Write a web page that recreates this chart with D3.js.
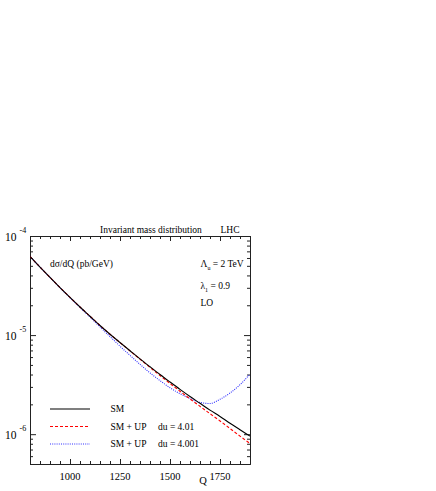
<!DOCTYPE html>
<html>
<head>
<meta charset="utf-8">
<script src="https://cdn.jsdelivr.net/npm/d3@7"></script>
<style>
  html, body { margin: 0; padding: 0; background: #fff; }
  svg { display: block; }
  text { font-family: "Liberation Serif", "DejaVu Serif", serif; fill: #000; }
</style>
</head>
<body>
<div id="chart"></div>
<script>
// ---- data ----
const Q = [800, 850, 900, 950, 1000, 1050, 1100, 1150, 1200, 1250, 1300, 1350, 1400,
           1450, 1500, 1550, 1600, 1650, 1700, 1750, 1800, 1850, 1900];
const sm = [6.21e-5, 4.86e-5, 3.82e-5, 3.02e-5, 2.40e-5, 1.92e-5, 1.55e-5, 1.25e-5, 1.02e-5,
            8.41e-6, 6.95e-6, 5.75e-6, 4.79e-6, 4.00e-6, 3.36e-6, 2.83e-6, 2.40e-6, 2.05e-6,
            1.75e-6, 1.51e-6, 1.29e-6, 1.11e-6, 9.55e-7];
const up401 = [6.21e-5, 4.86e-5, 3.82e-5, 3.02e-5, 2.40e-5, 1.92e-5, 1.55e-5, 1.25e-5, 1.02e-5,
               8.41e-6, 6.92e-6, 5.71e-6, 4.72e-6, 3.91e-6, 3.25e-6, 2.71e-6, 2.27e-6, 1.91e-6,
               1.61e-6, 1.36e-6, 1.14e-6, 9.55e-7, 8.04e-7];
const up4001 = [6.21e-5, 4.86e-5, 3.81e-5, 3.01e-5, 2.38e-5, 1.90e-5, 1.52e-5, 1.21e-5, 9.66e-6,
                7.73e-6, 6.24e-6, 5.07e-6, 4.15e-6, 3.47e-6, 2.94e-6, 2.56e-6, 2.29e-6, 2.09e-6,
                2.04e-6, 2.25e-6, 2.60e-6, 3.16e-6, 4.04e-6];
const xTicks = [1000, 1250, 1500, 1750];
const xTickLabels = ["1000", "1250", "1500", "1750"];
const yDecades = [1e-4, 1e-5, 1e-6];
const yDecadeExp = ["-4", "-5", "-6"];
const seriesNames = ["SM", "SM + UP", "SM + UP"];
const seriesNotes = ["", "du = 4.01", "du = 4.001"];
const title = "Invariant mass distribution";
const collider = "LHC";

// ---- layout ----
const W = 436, H = 491;
const L = 30, R = 250, T = 236, B = 464;
const svg = d3.select("#chart").append("svg").attr("width", W).attr("height", H);

const x = d3.scaleLinear().domain([800, 1900]).range([L, R]);
const y = d3.scaleLog().domain([5e-7, 1e-4]).range([B, T]);

const axisColor = "#222";

// minor/major ticks
const xMinor = d3.range(800, 1901, 50).filter(v => !xTicks.includes(v));
const yMinor = [];
[-7, -6, -5].forEach(e => { for (let m = 2; m <= 9; m++) { const v = m * Math.pow(10, e); if (v >= 5e-7 && v <= 1e-4) yMinor.push(v); } });

const axB = d3.axisBottom(x).tickValues(xTicks).tickFormat("").tickSizeInner(-5).tickSizeOuter(0);
const axBm = d3.axisBottom(x).tickValues(xMinor).tickFormat("").tickSizeInner(-3).tickSizeOuter(0);
const axT = d3.axisTop(x).tickValues(xTicks).tickFormat("").tickSizeInner(-5).tickSizeOuter(0);
const axTm = d3.axisTop(x).tickValues(xMinor).tickFormat("").tickSizeInner(-3).tickSizeOuter(0);
const axL = d3.axisLeft(y).tickValues(yDecades).tickFormat("").tickSizeInner(-6).tickSizeOuter(0);
const axLm = d3.axisLeft(y).tickValues(yMinor).tickFormat("").tickSizeInner(-3).tickSizeOuter(0);
const axR = d3.axisRight(y).tickValues(yDecades).tickFormat("").tickSizeInner(-6).tickSizeOuter(0);
const axRm = d3.axisRight(y).tickValues(yMinor).tickFormat("").tickSizeInner(-3).tickSizeOuter(0);

function put(ax, tx, ty) {
  const g = svg.append("g").attr("transform", `translate(${tx},${ty})`).call(ax);
  g.selectAll("path, line").attr("stroke", axisColor).attr("stroke-width", 1);
  return g;
}
put(axB, 0, B); put(axBm, 0, B);
put(axT, 0, T); put(axTm, 0, T);
put(axL, L, 0); put(axLm, L, 0);
put(axR, R, 0); put(axRm, R, 0);

// x tick labels
svg.append("g").selectAll("text").data(xTicks).join("text")
  .attr("x", d => x(d)).attr("y", B + 16)
  .attr("text-anchor", "middle").attr("font-size", 10.5)
  .text((d, i) => xTickLabels[i]);
svg.append("text").attr("x", x(1665)).attr("y", B + 20).attr("font-size", 10.5).attr("text-anchor", "middle").text("Q");

// y decade labels
const yl = svg.append("g");
yDecades.forEach((d, i) => {
  const t = yl.append("text").attr("x", 5).attr("y", y(d) + 4.5).attr("font-size", 11.5);
  t.append("tspan").text("10");
  t.append("tspan").attr("dx", 3).attr("dy", -8).attr("font-size", 8).text(yDecadeExp[i]);
});

// curves
const line = d3.line().x((d, i) => x(Q[i])).y(d => y(d)).curve(d3.curveMonotoneX);
svg.append("clipPath").attr("id", "clip").append("rect")
  .attr("x", L).attr("y", T).attr("width", R - L).attr("height", B - T);
const styles = [
  { color: "#000000", dash: null, width: 1.1 },
  { color: "#ff0000", dash: "3,2", width: 1.1 },
  { color: "#3030ff", dash: "1,1.2", width: 1.1 }
];
const allSeries = [sm, up401, up4001];
const cg = svg.append("g").attr("clip-path", "url(#clip)");
[2, 1, 0].forEach(k => {
  cg.append("path").datum(allSeries[k])
    .attr("d", line).attr("fill", "none")
    .attr("stroke", styles[k].color).attr("stroke-width", styles[k].width)
    .attr("stroke-dasharray", styles[k].dash);
});

// legend
const legY = [409, 426.5, 444];
allSeries.forEach((s, k) => {
  svg.append("line").attr("x1", 50).attr("x2", 90).attr("y1", legY[k]).attr("y2", legY[k])
    .attr("stroke", styles[k].color).attr("stroke-width", styles[k].width)
    .attr("stroke-dasharray", styles[k].dash);
  svg.append("text").attr("x", 110.5).attr("y", legY[k] + 3).attr("font-size", 9.5).text(seriesNames[k]);
  if (seriesNotes[k]) svg.append("text").attr("x", 158).attr("y", legY[k] + 3).attr("font-size", 9.5).text(seriesNotes[k]);
});

// title and annotations
svg.append("text").attr("x", 100).attr("y", T - 3).attr("font-size", 9.5).text(title);
svg.append("text").attr("x", 220.5).attr("y", T - 3).attr("font-size", 9.5).text(collider);
svg.append("text").attr("x", 50).attr("y", 267).attr("font-size", 9.5).text("dσ/dQ (pb/GeV)");

const lam = svg.append("text").attr("x", 200.5).attr("y", 267).attr("font-size", 9.5);
lam.append("tspan").text("Λ");
lam.append("tspan").attr("dy", 3).attr("font-size", 6).text("u");
lam.append("tspan").attr("dy", -3).text(" = 2 TeV");

const lam1 = svg.append("text").attr("x", 200.5).attr("y", 289).attr("font-size", 9.5);
lam1.append("tspan").text("λ");
lam1.append("tspan").attr("dy", 3).attr("font-size", 6).text("1");
lam1.append("tspan").attr("dy", -3).text(" = 0.9");

svg.append("text").attr("x", 200.5).attr("y", 306).attr("font-size", 9.5).text("LO");
</script>
</body>
</html>
